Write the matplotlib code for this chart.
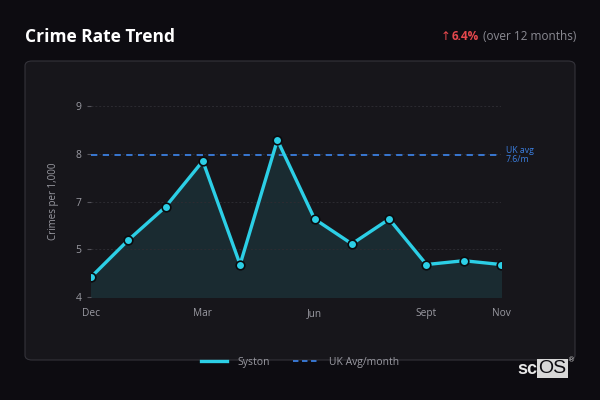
import numpy as np
import matplotlib
matplotlib.use('Agg')
import matplotlib.pyplot as plt
from matplotlib.patches import FancyBboxPatch, Rectangle
from matplotlib.lines import Line2D
from matplotlib.ticker import FixedLocator, FixedFormatter

# Data
months = ['Dec', 'Jan', 'Feb', 'Mar', 'Apr', 'May', 'Jun', 'Jul', 'Aug', 'Sept', 'Oct', 'Nov']
syston = [4.52, 5.49, 6.36, 7.56, 4.85, 8.11, 6.04, 5.39, 6.04, 4.85, 4.95, 4.85]
uk_avg_line = 7.72
uk_avg_text = 'UK avg\n7.6/m'
xtick_months = ['Dec', 'Mar', 'Jun', 'Sept', 'Nov']
yticks = [4, 5.25, 6.5, 7.75, 9]
ytick_labels = ['4', '5', '7', '8', '9']
change_pct = '6.4%'

plt.rcParams['font.family'] = ['Open Sans', 'DejaVu Sans']

bg = '#0d0c11'
card = '#17161b'
cyan = '#2ccfe6'
blue = '#3b7fe0'
grey = '#9a9aa2'

fig = plt.figure(figsize=(6, 4), dpi=100, facecolor=bg)

# card panel
card_patch = FancyBboxPatch((25 / 600, 40 / 400), 550 / 600, 299 / 400,
                            boxstyle='round,pad=0,rounding_size=0.012',
                            transform=fig.transFigure, facecolor=card,
                            edgecolor='#34333a', linewidth=0.8, zorder=-1)
fig.patches.append(card_patch)

fig.text(25 / 600, 1 - 37 / 400, 'Crime Rate Trend', color='white', fontsize=12.5,
         fontweight='bold', va='center', ha='left')
fig.text(576 / 600, 1 - 37 / 400, '(over 12 months)', color='#8a8a92', fontsize=8.5,
         va='center', ha='right')
fig.text(479 / 600, 1 - 37 / 400, change_pct, color='#e5484d', fontsize=8.5,
         fontweight='bold', va='center', ha='right')
fig.text(441 / 600, 1 - 37 / 400, '↑', color='#e5484d', fontsize=8.5,
         va='center', ha='left', family=['DejaVu Sans'])

ax = fig.add_axes([91 / 600, (400 - 297) / 400, 410 / 600, 191 / 400])
ax.set_facecolor('none')
x = np.arange(len(months))
ax.fill_between(x, syston, 4, color='#1a2b31', zorder=1)
ax.plot(x, syston, color=cyan, linewidth=2.4, marker='o', markersize=6.2,
        markerfacecolor=cyan, markeredgecolor='#0b0b0e', markeredgewidth=1.2,
        zorder=4)
ax.axhline(uk_avg_line, color=blue, linestyle=(0, (3.5, 3)), linewidth=1.3,
           xmax=0.99, zorder=3)
ax.text(11.13, uk_avg_line, uk_avg_text, color=blue, fontsize=6.3, va='center',
        ha='left', linespacing=1.1)

ax.set_xlim(0, 11)
ax.set_ylim(4, 9)
ax.yaxis.set_major_locator(FixedLocator(yticks))
ax.yaxis.set_major_formatter(FixedFormatter(ytick_labels))
ax.set_xticks([months.index(m) for m in xtick_months])
ax.set_xticklabels(xtick_months)
ax.grid(axis='y', color='#2c2b31', linestyle=(0, (2, 2)), linewidth=0.7, zorder=0)
for s in ax.spines.values():
    s.set_visible(False)
ax.tick_params(axis='y', colors='#55545c', length=3, width=0.8, pad=4,
               labelcolor=grey, labelsize=7.5, direction='out')
ax.tick_params(axis='x', length=0, pad=8, labelcolor=grey, labelsize=7.3)
ax.set_ylabel('Crimes per 1,000', color=grey, fontsize=7, labelpad=12)

handles = [Line2D([], [], color=cyan, linewidth=2.4),
           Line2D([], [], color=blue, linewidth=1.3, linestyle=(0, (3, 2)))]
fig.legend(handles, ['Syston', 'UK Avg/month'], loc='center',
           bbox_to_anchor=(300 / 600, 1 - 362 / 400), ncol=2,
           frameon=False, fontsize=7.5, labelcolor=grey, handlelength=2.5,
           columnspacing=2.2, handletextpad=1.0)

# logo
fig.text(517 / 600, 1 - 369 / 400, 'sc', color='#e8e8e8', fontsize=13, va='center',
         ha='left', family=['Liberation Sans'], fontweight='bold')
fig.patches.append(Rectangle((537 / 600, 1 - 378 / 400), 31 / 600, 19 / 400,
                             transform=fig.transFigure, facecolor='#d8d8d8',
                             edgecolor='none'))
fig.text(552.5 / 600, 1 - 368.5 / 400, 'OS', color='#0d0c11', fontsize=14, va='center',
         ha='center', family=['Liberation Sans'])
fig.text(568 / 600, 1 - 360 / 400, '®', color='#cccccc', fontsize=5, va='center',
         ha='left', family=['DejaVu Sans'])

fig.savefig('out.png', dpi=100, facecolor=bg)
